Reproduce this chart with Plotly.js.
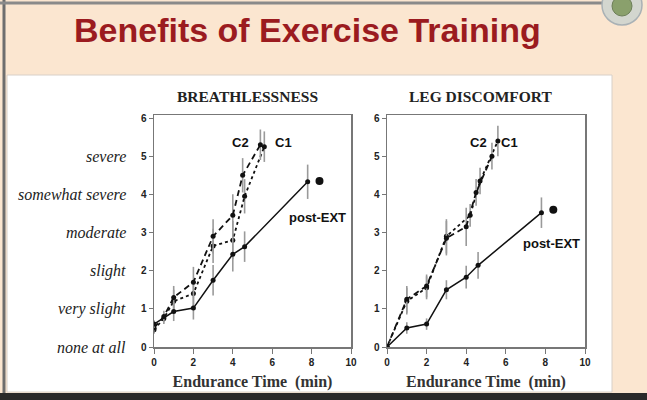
<!DOCTYPE html>
<html><head><meta charset="utf-8">
<script src="https://cdn.plot.ly/plotly-3.0.1.min.js"></script>
<style>html,body{margin:0;padding:0;background:#fbe6d0;}#chart{width:647px;height:400px;}</style>
</head><body><div id="chart"></div>
<script>
// ---- data ----
const scaleLabels = ["none at all","very slight","slight","moderate","somewhat severe","severe"];
const scaleValues = [0,1,2,3,4,5];
const xTicks = [0,2,4,6,8,10];

// Breathlessness
const brPostX = [0,1,2,3,4,4.6,7.8];
const brPostY = [0.6,0.93,1.02,1.75,2.43,2.63,4.33];
const brPostE = [0.1,0.25,0.3,0.4,0.45,0.4,0.45];
const brC2X = [0,0.5,1,2,3,4,4.5,5.4];
const brC2Y = [0.5,0.8,1.3,1.7,2.9,3.45,4.5,5.3];
const brC2E = [0.1,0.15,0.3,0.4,0.45,0.55,0.45,0.4];
const brC1X = [0,0.5,1,2,3,4,4.6,5.6];
const brC1Y = [0.45,0.75,1.2,1.4,2.65,2.8,3.95,5.25];
const brC1E = [0.1,0.15,0.3,0.35,0.45,0.5,0.45,0.4];
const brEndX = [8.4], brEndY = [4.35];

// Leg discomfort
const lgPostX = [0,1,2,3,4,4.6,7.8];
const lgPostY = [0,0.5,0.6,1.5,1.83,2.14,3.52];
const lgPostE = [0.05,0.15,0.15,0.25,0.3,0.35,0.4];
const lgC2X = [0,1,2,3,4,4.5,5.3];
const lgC2Y = [0,1.25,1.6,2.85,3.15,4.05,5.0];
const lgC2E = [0.05,0.35,0.3,0.45,0.5,0.35,0.35];
const lgC1X = [0,1,2,3,4.2,4.7,5.6];
const lgC1Y = [0,1.2,1.55,2.9,3.45,4.35,5.4];
const lgC1E = [0.05,0.35,0.3,0.45,0.3,0.35,0.4];
const lgEndX = [8.4], lgEndY = [3.6];

// ---- helpers ----
const W = 647, H = 400;
const px = v => v / W, py = v => 1 - v / H;
function tr(x, y, e, dash, xa, ya, w) {
  return {x, y, type:'scatter', mode:'lines+markers', xaxis:xa, yaxis:ya, showlegend:false,
    line:{color:'#111', width:w||1.8, dash:dash},
    marker:{color:'#111', size:5},
    error_y:{type:'data', array:e, visible:true, color:'#9a9a9a', thickness:1.6, width:0}};
}
const data = [
  tr(brC1X, brC1Y, brC1E, '3px,3px', 'x', 'y'),
  tr(brC2X, brC2Y, brC2E, '6px,4px', 'x', 'y'),
  tr(brPostX, brPostY, brPostE, 'solid', 'x', 'y', 1.5),
  {x:brEndX, y:brEndY, type:'scatter', mode:'markers', xaxis:'x', yaxis:'y', showlegend:false, marker:{color:'#111', size:8}},
  tr(lgC1X, lgC1Y, lgC1E, '3px,3px', 'x2', 'y2'),
  tr(lgC2X, lgC2Y, lgC2E, '6px,4px', 'x2', 'y2'),
  tr(lgPostX, lgPostY, lgPostE, 'solid', 'x2', 'y2', 1.5),
  {x:lgEndX, y:lgEndY, type:'scatter', mode:'markers', xaxis:'x2', yaxis:'y2', showlegend:false, marker:{color:'#111', size:8}}
];

const tickFont = {family:'Liberation Sans, Arial', size:10, color:'#222', weight:'bold'};
const titleFont = {family:'Liberation Serif, Times New Roman', size:16, color:'#333', weight:'bold'};
function xax(dom, anchor) {
  return {domain:dom, anchor:anchor, range:[0,10], tickvals:xTicks, ticktext:xTicks.map(String),
    showline:true, mirror:true, linecolor:'#777', linewidth:1.5, showgrid:false, zeroline:false,
    ticks:'outside', ticklen:5, tickcolor:'#777', tickfont:tickFont,
    title:{text:'Endurance Time  (min)', font:titleFont, standoff:9}};
}
function yax(dom, anchor) {
  return {domain:dom, anchor:anchor, range:[0,6.08], tickvals:[0,1,2,3,4,5,6],
    showline:true, mirror:true, linecolor:'#777', linewidth:1.5, showgrid:false, zeroline:false,
    ticks:'outside', ticklen:4, tickcolor:'#777', tickfont:tickFont};
}
const yDom = [py(347), py(115)];
const lblFont = {family:'Liberation Sans, Arial', size:13, color:'#111', weight:'bold'};
const panelFont = {family:'Liberation Serif, Times New Roman', size:15.5, color:'#222', weight:'bold'};

const annotations = [
  {text:'Benefits of Exercise Training', xref:'paper', yref:'paper', x:px(307), y:py(30), showarrow:false,
   font:{family:'Liberation Sans, Arial', size:34, color:'#9b1b1f', weight:'bold'}, xanchor:'center', yanchor:'middle'},
  {text:'BREATHLESSNESS', xref:'paper', yref:'paper', x:px(247), y:py(97), showarrow:false,
   font:panelFont, xanchor:'center', yanchor:'middle'},
  {text:'LEG DISCOMFORT', xref:'paper', yref:'paper', x:px(481), y:py(97), showarrow:false,
   font:panelFont, xanchor:'center', yanchor:'middle'},
  {text:'C2', x:4.37, y:5.35, xref:'x', yref:'y', showarrow:false, font:lblFont},
  {text:'C1', x:6.55, y:5.35, xref:'x', yref:'y', showarrow:false, font:lblFont},
  {text:'post-EXT', x:8.3, y:3.4, xref:'x', yref:'y', showarrow:false, font:lblFont},
  {text:'C2', x:4.6, y:5.35, xref:'x2', yref:'y2', showarrow:false, font:lblFont},
  {text:'C1', x:6.2, y:5.35, xref:'x2', yref:'y2', showarrow:false, font:lblFont},
  {text:'post-EXT', x:8.3, y:2.72, xref:'x2', yref:'y2', showarrow:false, font:lblFont}
];
scaleLabels.forEach((t, i) => annotations.push({
  text:'<i>' + t + '</i>', xref:'paper', yref:'y', x:px(128), y:scaleValues[i], xanchor:'right', yanchor:'middle', showarrow:false,
  font:{family:'Liberation Serif, Times New Roman', size:16, color:'#222'}}));

const shapes = [
  {type:'rect', xref:'paper', yref:'paper', x0:px(7), x1:px(612), y0:py(392), y1:py(75), fillcolor:'#ffffff', line:{color:'#d8d0c8', width:1}, layer:'below'},
  {type:'rect', xref:'paper', yref:'paper', x0:0, x1:1, y0:0, y1:py(393), fillcolor:'#2a2a2a', line:{width:0}, layer:'below'},
  {type:'line', xref:'paper', yref:'paper', x0:px(4), x1:px(4), y0:py(393), y1:1, line:{color:'#6e6e6e', width:3}, layer:'below'},
  {type:'line', xref:'paper', yref:'paper', x0:0, x1:px(640), y0:py(3), y1:py(3), line:{color:'#8a8a8a', width:3}, layer:'below'},
  {type:'circle', xref:'paper', yref:'paper', x0:px(602), x1:px(642), y0:py(25), y1:py(-15), fillcolor:'#d3d6cf', line:{color:'#a9b1b5', width:1.5}, layer:'below'},
  {type:'circle', xref:'paper', yref:'paper', x0:px(612), x1:px(632), y0:py(16), y1:py(-4), fillcolor:'#8aa06c', line:{color:'#6d7f58', width:1}, layer:'below'}
];

const layout = {
  width:W, height:H, margin:{l:0, r:0, t:0, b:0},
  paper_bgcolor:'#fbe6d0', plot_bgcolor:'rgba(0,0,0,0)',
  xaxis:xax([px(154), px(351)], 'y'), yaxis:yax(yDom, 'x'),
  xaxis2:xax([px(387), px(585)], 'y2'), yaxis2:yax(yDom, 'x2'),
  annotations, shapes, showlegend:false
};
Plotly.newPlot('chart', data, layout, {displayModeBar:false, staticPlot:true});
</script></body></html>
